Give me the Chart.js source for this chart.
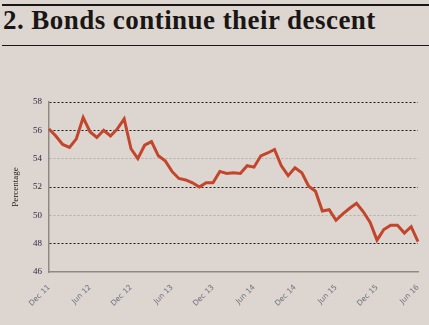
<!DOCTYPE html>
<html>
<head>
<meta charset="utf-8">
<script src="https://cdn.jsdelivr.net/npm/chart.js@4.4.1/dist/chart.umd.min.js"></script>
<style>
  html, body { margin:0; padding:0; background:#ddd6d0; }
  .wrap { position:relative; width:429px; height:325px; overflow:hidden; }
  .rule-top { position:absolute; left:2px; right:0; top:4px; height:2px; background:#1a1616; }
  .rule-bot { position:absolute; left:2px; right:0; top:45px; height:1px; background:#1a1616; }
  h1 { position:absolute; left:3px; top:5px; margin:0; font:bold 27px "Liberation Serif", serif; color:#1a1616; letter-spacing:0.45px; white-space:nowrap; }
  canvas { position:absolute; left:0; top:0; }
</style>
</head>
<body>
<div class="wrap">
  <div class="rule-top"></div>
  <h1>2. Bonds continue their descent</h1>
  <div class="rule-bot"></div>
  <canvas id="bonds" width="429" height="325"></canvas>
</div>
<script>
const months = ['Dec 11','Jan 12','Feb 12','Mar 12','Apr 12','May 12','Jun 12','Jul 12','Aug 12','Sep 12','Oct 12','Nov 12',
  'Dec 12','Jan 13','Feb 13','Mar 13','Apr 13','May 13','Jun 13','Jul 13','Aug 13','Sep 13','Oct 13','Nov 13',
  'Dec 13','Jan 14','Feb 14','Mar 14','Apr 14','May 14','Jun 14','Jul 14','Aug 14','Sep 14','Oct 14','Nov 14',
  'Dec 14','Jan 15','Feb 15','Mar 15','Apr 15','May 15','Jun 15','Jul 15','Aug 15','Sep 15','Oct 15','Nov 15',
  'Dec 15','Jan 16','Feb 16','Mar 16','Apr 16','May 16','Jun 16'];
const share = [56.1, 55.6, 55.0, 54.8, 55.4, 56.9, 55.9, 55.5, 56.0, 55.6, 56.1, 56.8,
  54.7, 54.0, 54.95, 55.2, 54.2, 53.85, 53.1, 52.6, 52.5, 52.3, 52.0, 52.3,
  52.3, 53.1, 52.95, 53.0, 52.95, 53.5, 53.4, 54.2, 54.4, 54.65, 53.5, 52.8,
  53.35, 53.0, 52.05, 51.7, 50.3, 50.4, 49.65, 50.1, 50.5, 50.85, 50.25, 49.5,
  48.25, 49.0, 49.3, 49.3, 48.75, 49.2, 48.15];
const yTicks = [46, 48, 50, 52, 54, 56, 58];
const greyLines = [50, 54];

new Chart(document.getElementById('bonds').getContext('2d'), {
  type: 'line',
  data: {
    labels: months,
    datasets: [{
      data: share,
      borderColor: '#c2452c',
      borderWidth: 3,
      pointRadius: 0,
      tension: 0,
      fill: false
    }]
  },
  options: {
    responsive: false,
    animation: false,
    layout: { padding: { top: 102, right: 11, left: 0, bottom: 0 } },
    plugins: { legend: { display:false }, tooltip: { enabled:false } },
    scales: {
      x: {
        offset: false,
        afterFit: s => { s.height = 53; },
        grid: { display:false },
        border: { display:true, color:'#8d8985', width:1.5 },
        ticks: {
          autoSkip: false,
          maxRotation: 45, minRotation: 45,
          padding: 3,
          color: '#6d6f80',
          font: { family: '"DejaVu Sans", sans-serif', size: 7.5 },
          callback: function(v, i){ return i % 6 === 0 ? this.getLabelForValue(v) : ''; }
        }
      },
      y: {
        min: 46, max: 58,
        afterFit: s => { s.width = 49; },
        afterBuildTicks: s => { s.ticks = yTicks.map(v => ({ value: v })); },
        border: { display:true, color:'#8d8985', width:1.5, dash:[2,2] },
        grid: {
          drawTicks: false,
          lineWidth: 1,
          color: c => c.tick.value === 46 ? 'rgba(0,0,0,0)' : (greyLines.includes(c.tick.value) ? '#b4aca7' : '#1e1a1a')
        },
        ticks: {
          padding: 7,
          color: '#2b2b48',
          font: { family: '"Liberation Serif", serif', size: 9 }
        },
        title: {
          display: true,
          text: 'Percentage',
          color: '#1e1a1a',
          padding: { top: 10, bottom: 0 },
          font: { family: '"Liberation Serif", serif', size: 9 }
        }
      }
    }
  }
});
</script>
</body>
</html>
